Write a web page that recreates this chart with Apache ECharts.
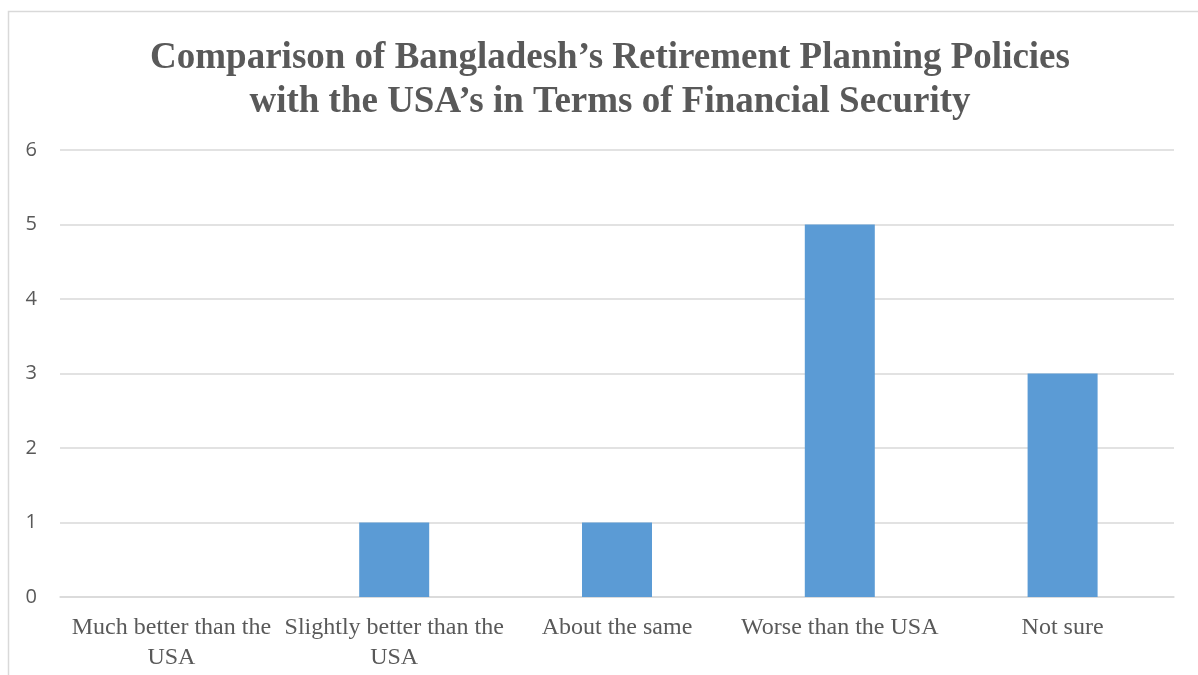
<!DOCTYPE html>
<html><head><meta charset="utf-8">
<script src="https://cdn.jsdelivr.net/npm/echarts@6/dist/echarts.min.js"></script>
<style>html,body{margin:0;padding:0;background:#fff}#c{width:1198px;height:675px}</style>
</head><body><div id="c"></div>
<script>
const categories = ["Much better than the\nUSA", "Slightly better than the\nUSA", "About the same", "Worse than the USA", "Not sure"];
const values = [0, 1, 1, 5, 3];
const titleText = "Comparison of Bangladesh\u2019s Retirement Planning Policies\nwith the USA\u2019s in Terms of Financial Security";

const chart = echarts.init(document.getElementById('c'));
chart.setOption({
  animation: false,
  backgroundColor: '#fff',
  graphic: [{
    type: 'rect', left: 6, top: 9,
    shape: { x: 0, y: 0, width: 1200, height: 700 },
    style: { fill: 'none', stroke: '#d9d9d9', lineWidth: 1.5 }, z: 0
  }],
  title: {
    text: titleText, left: 605, top: 31, textAlign: 'center',
    textStyle: { fontFamily: 'Liberation Serif', fontWeight: 'bold', fontSize: 37, color: '#595959', lineHeight: 44 }
  },
  grid: { left: 60, right: 24, top: 150, bottom: 78, containLabel: false },
  xAxis: {
    type: 'category', data: categories,
    axisLine: { show: true, lineStyle: { color: '#d9d9d9', width: 1.5 } },
    axisTick: { show: false },
    axisLabel: { interval: 0, margin: 16, fontFamily: 'Liberation Serif', fontSize: 24, color: '#595959', lineHeight: 30 }
  },
  yAxis: {
    type: 'value', min: 0, max: 6, interval: 1,
    axisLine: { show: false }, axisTick: { show: false },
    splitLine: { lineStyle: { color: '#d9d9d9', width: 1.5 } },
    axisLabel: { margin: 23, fontFamily: 'Open Sans', fontSize: 20, color: '#595959' }
  },
  series: [{
    type: 'bar', data: values, barWidth: 70,
    itemStyle: { color: '#5b9bd5' }
  }]
});
</script></body></html>
